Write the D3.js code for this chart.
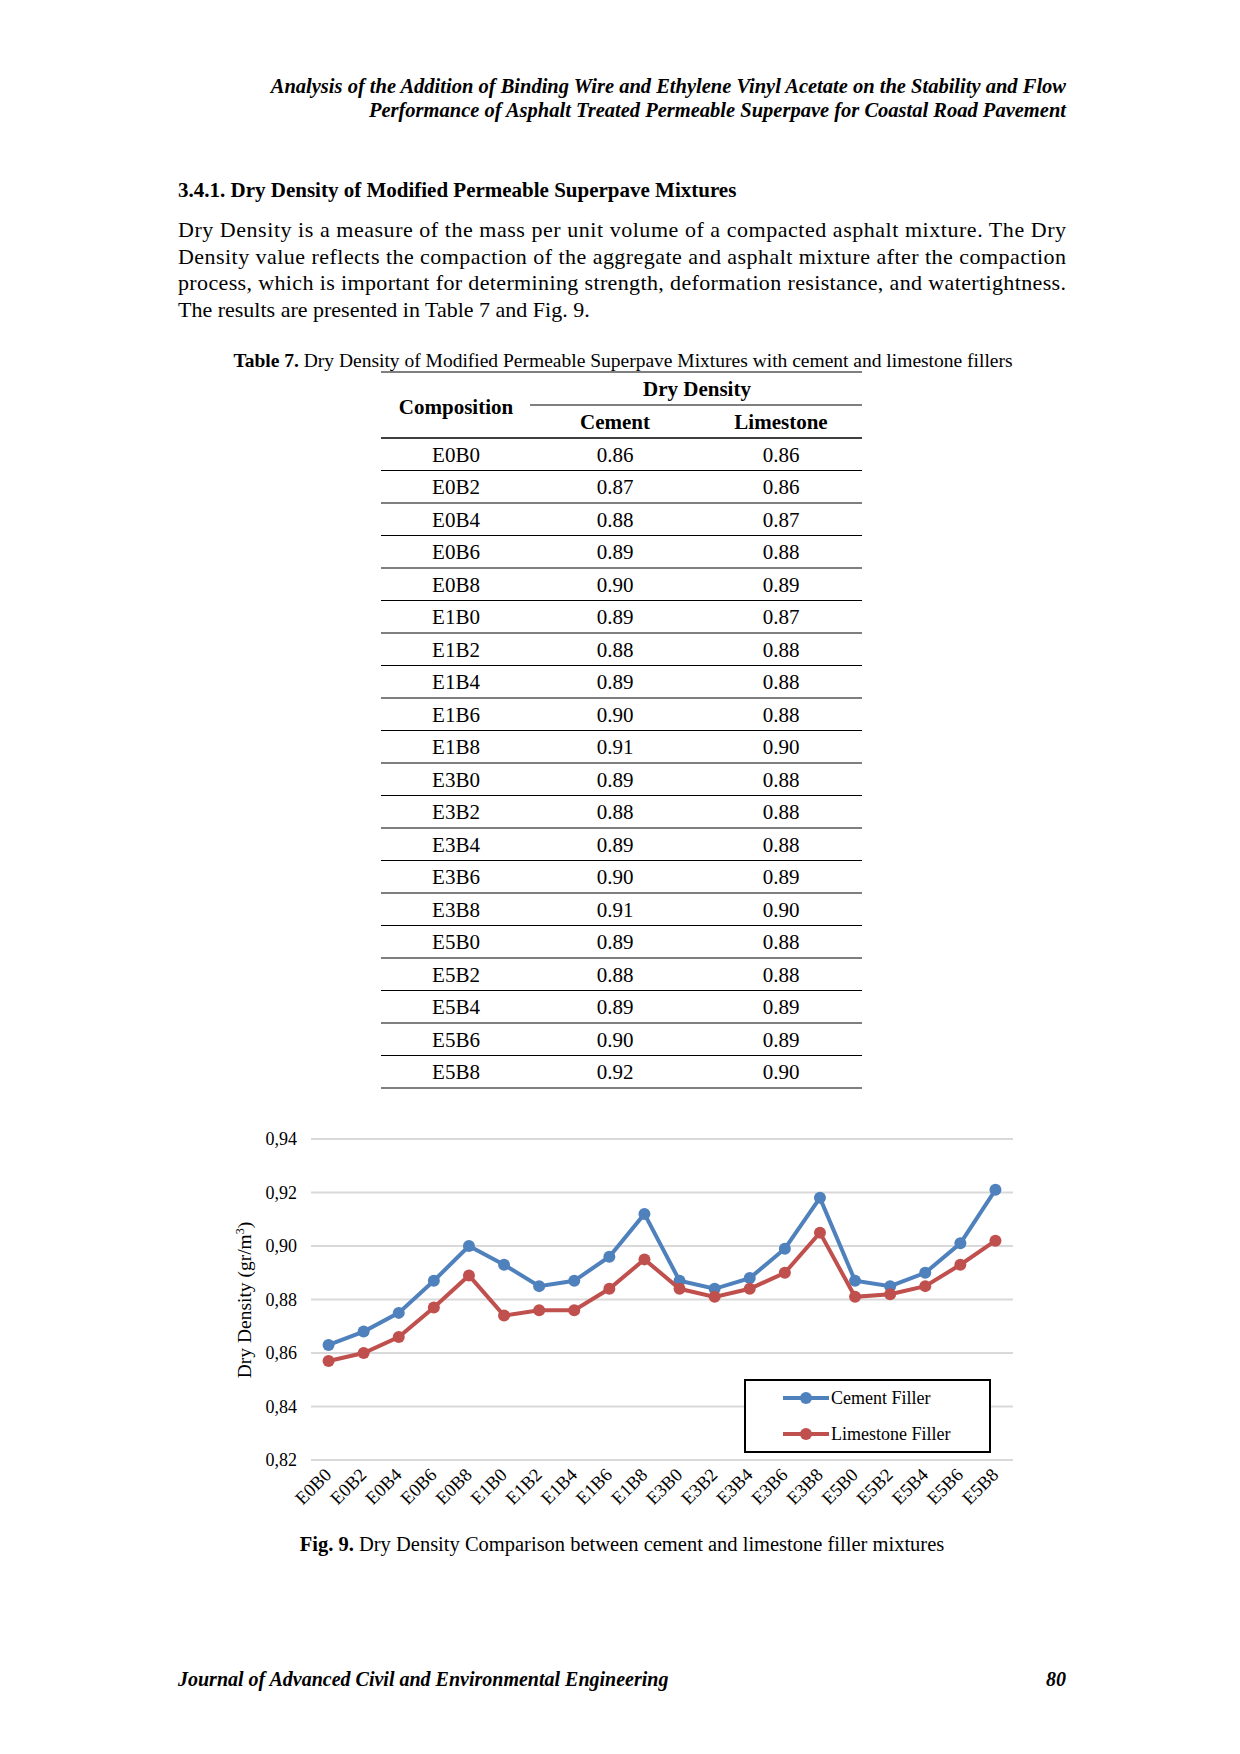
<!DOCTYPE html>
<html><head><meta charset="utf-8">
<script src="https://cdn.jsdelivr.net/npm/d3@7"></script>
<style>body{margin:0;background:#fff}svg{display:block;font-family:"Liberation Serif","Times New Roman",serif}</style>
</head><body>
<svg id="page" width="1240" height="1754"></svg>
<script>
const compositions = ["E0B0","E0B2","E0B4","E0B6","E0B8","E1B0","E1B2","E1B4","E1B6","E1B8","E3B0","E3B2","E3B4","E3B6","E3B8","E5B0","E5B2","E5B4","E5B6","E5B8"];
const tableCement = ["0.86","0.87","0.88","0.89","0.90","0.89","0.88","0.89","0.90","0.91","0.89","0.88","0.89","0.90","0.91","0.89","0.88","0.89","0.90","0.92"];
const tableLimestone = ["0.86","0.86","0.87","0.88","0.89","0.87","0.88","0.88","0.88","0.90","0.88","0.88","0.88","0.89","0.90","0.88","0.88","0.89","0.89","0.90"];
const cementFiller = [0.863,0.868,0.875,0.887,0.900,0.893,0.885,0.887,0.896,0.912,0.887,0.884,0.888,0.899,0.918,0.887,0.885,0.890,0.901,0.921];
const limestoneFiller = [0.857,0.860,0.866,0.877,0.889,0.874,0.876,0.876,0.884,0.895,0.884,0.881,0.884,0.890,0.905,0.881,0.882,0.885,0.893,0.902];
const yTicks = [0.82,0.84,0.86,0.88,0.90,0.92,0.94];

const svg = d3.select("#page");
const R = 1066;

// header
const hdr = ["Analysis of the Addition of Binding Wire and Ethylene Vinyl Acetate on the Stability and Flow",
             "Performance of Asphalt Treated Permeable Superpave for Coastal Road Pavement"];
hdr.forEach((t,i)=>svg.append("text").attr("x",R).attr("y",93+i*24).attr("text-anchor","end")
  .attr("font-size",20.5).attr("font-weight","bold").attr("font-style","italic").text(t));

svg.append("text").attr("x",178).attr("y",197).attr("font-size",21).attr("font-weight","bold")
  .text("3.4.1. Dry Density of Modified Permeable Superpave Mixtures");

const para = ["Dry Density is a measure of the mass per unit volume of a compacted asphalt mixture. The Dry",
  "Density value reflects the compaction of the aggregate and asphalt mixture after the compaction",
  "process, which is important for determining strength, deformation resistance, and watertightness.",
  "The results are presented in Table 7 and Fig. 9."];
para.forEach((t,i)=>{
  const el = svg.append("text").attr("x",178).attr("y",237+i*26.6).attr("font-size",22).text(t);
  if(i<3) el.attr("textLength",R-178).attr("lengthAdjust","spacing");
});

// table
const cap = svg.append("text").attr("x",623).attr("y",367).attr("text-anchor","middle").attr("font-size",19.5);
cap.append("tspan").attr("font-weight","bold").text("Table 7.");
cap.append("tspan").text(" Dry Density of Modified Permeable Superpave Mixtures with cement and limestone fillers");

const tx0=381, tx1=862, cx=[456,615,781];
const line=(x1,x2,y,w)=>svg.append("line").attr("x1",x1).attr("x2",x2).attr("y1",y).attr("y2",y).attr("stroke","#000").attr("stroke-width",w);
line(tx0,tx1,372,1.2);
line(530,tx1,405,1.2);
svg.append("text").attr("x",cx[0]).attr("y",414).attr("text-anchor","middle").attr("font-size",21).attr("font-weight","bold").text("Composition");
svg.append("text").attr("x",697).attr("y",396).attr("text-anchor","middle").attr("font-size",21).attr("font-weight","bold").text("Dry Density");
svg.append("text").attr("x",cx[1]).attr("y",429).attr("text-anchor","middle").attr("font-size",21).attr("font-weight","bold").text("Cement");
svg.append("text").attr("x",cx[2]).attr("y",429).attr("text-anchor","middle").attr("font-size",21).attr("font-weight","bold").text("Limestone");
line(tx0,tx1,438,1.5);
const rowH = 32.5;
compositions.forEach((c,i)=>{
  const y = 438 + (i+1)*rowH;
  [c,tableCement[i],tableLimestone[i]].forEach((t,j)=>svg.append("text").attr("x",cx[j]).attr("y",y-9)
    .attr("text-anchor","middle").attr("font-size",21).text(t));
  line(tx0,tx1,y,1.2);
});

// chart
const x = d3.scalePoint().domain(compositions).range([311,1013]).padding(0.5);
const y = d3.scaleLinear().domain([0.82,0.94]).range([1460,1139]);

svg.append("g").selectAll("line").data(yTicks).join("line")
  .attr("x1",311).attr("x2",1013).attr("y1",d=>y(d)).attr("y2",d=>y(d)).attr("stroke","#d9d9d9").attr("stroke-width",2);
svg.append("g").selectAll("text").data(yTicks).join("text")
  .attr("x",297).attr("y",d=>y(d)+6).attr("text-anchor","end").attr("font-size",18)
  .text(d=>d3.format(".2f")(d).replace(".",","));

svg.append("g").selectAll("text").data(compositions).join("text")
  .attr("transform",d=>`translate(${x(d)+4},${y(0.82)+16}) rotate(-45)`)
  .attr("text-anchor","end").attr("font-size",18.5).text(d=>d);

svg.append("text").attr("transform","translate(251,1300) rotate(-90)").attr("text-anchor","middle").attr("font-size",19.5)
  .html('Dry Density (gr/m<tspan baseline-shift="super" font-size="12">3</tspan>)');

const series = [{v:cementFiller,c:"#4f81bd",n:"Cement Filler"},{v:limestoneFiller,c:"#c0504d",n:"Limestone Filler"}];
const ln = d3.line().x((d,i)=>x(compositions[i])).y(d=>y(d));
series.forEach(s=>{
  svg.append("path").attr("d",ln(s.v)).attr("fill","none").attr("stroke",s.c).attr("stroke-width",4);
  svg.append("g").selectAll("circle").data(s.v).join("circle")
    .attr("cx",(d,i)=>x(compositions[i])).attr("cy",d=>y(d)).attr("r",6).attr("fill",s.c);
});

// legend
svg.append("rect").attr("x",745).attr("y",1380).attr("width",245).attr("height",72).attr("fill","#fff").attr("stroke","#000").attr("stroke-width",2);
series.forEach((s,i)=>{
  const ly = 1398 + i*36;
  svg.append("line").attr("x1",783).attr("x2",829).attr("y1",ly).attr("y2",ly).attr("stroke",s.c).attr("stroke-width",4);
  svg.append("circle").attr("cx",806).attr("cy",ly).attr("r",6).attr("fill",s.c);
  svg.append("text").attr("x",831).attr("y",ly+6).attr("font-size",18).text(s.n);
});

const fc = svg.append("text").attr("x",622).attr("y",1551).attr("text-anchor","middle").attr("font-size",20.5);
fc.append("tspan").attr("font-weight","bold").text("Fig. 9.");
fc.append("tspan").text(" Dry Density Comparison between cement and limestone filler mixtures");

// footer
svg.append("text").attr("x",178).attr("y",1686).attr("font-size",20).attr("font-weight","bold").attr("font-style","italic")
  .text("Journal of Advanced Civil and Environmental Engineering");
svg.append("text").attr("x",R).attr("y",1686).attr("text-anchor","end").attr("font-size",20).attr("font-weight","bold").attr("font-style","italic").text("80");
</script>
</body></html>
